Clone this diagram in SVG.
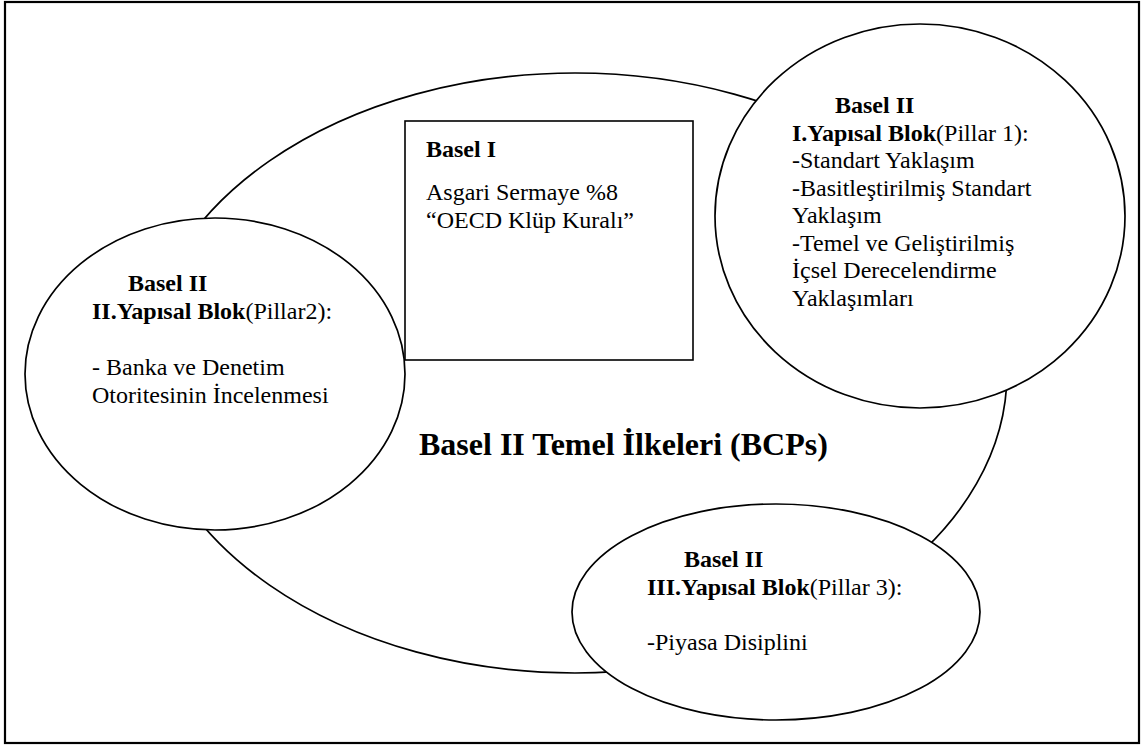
<svg xmlns="http://www.w3.org/2000/svg" width="1142" height="746" viewBox="0 0 1142 746">
  <style>
    .frame { fill: #ffffff; stroke: #000000; stroke-width: 2.2; }
    .shape { fill: #ffffff; stroke: #000000; stroke-width: 1.7; }
    .box { fill: #ffffff; stroke: #000000; stroke-width: 1.6; }
    text { font-family: "Liberation Serif", serif; font-size: 24px; font-weight: normal; fill: #000000; }
    .b { font-weight: bold; }
    .title { font-size: 32px; font-weight: bold; }
  </style>

  <!-- page frame -->
  <rect class="frame" x="5" y="2" width="1134" height="741"/>

  <!-- overall principles region (drawn first so the pillars overlap it) -->
  <g id="bcp">
    <ellipse class="shape" cx="575" cy="373" rx="432" ry="300"/>
    <text class="title" x="419" y="455">Basel II Temel İlkeleri (BCPs)</text>
  </g>

  <g id="connectors"></g>

  <!-- Basel I box -->
  <g id="basel1">
    <rect class="box" x="405" y="121" width="288" height="239"/>
    <text class="b" x="426" y="157">Basel I</text>
    <text x="426" y="200">Asgari Sermaye %8</text>
    <text x="426" y="228">“OECD Klüp Kuralı”</text>
  </g>

  <!-- Pillar 2 -->
  <g id="pillar2">
    <ellipse class="shape" cx="215" cy="374" rx="190" ry="156"/>
    <text class="b" x="128" y="291">Basel II</text>
    <text x="92" y="319"><tspan class="b">II.Yapısal Blok</tspan>(Pillar2):</text>
    <text x="92" y="375">- Banka ve Denetim</text>
    <text x="92" y="403">Otoritesinin İncelenmesi</text>
  </g>

  <!-- Pillar 1 -->
  <g id="pillar1">
    <ellipse class="shape" cx="920" cy="216" rx="205" ry="192"/>
    <text class="b" x="835" y="113">Basel II</text>
    <text x="792" y="140.5"><tspan class="b">I.Yapısal Blok</tspan>(Pillar 1):</text>
    <text x="792" y="168">-Standart Yaklaşım</text>
    <text x="792" y="195.5">-Basitleştirilmiş Standart</text>
    <text x="792" y="223">Yaklaşım</text>
    <text x="792" y="250.5">-Temel ve Geliştirilmiş</text>
    <text x="792" y="278">İçsel Derecelendirme</text>
    <text x="792" y="305.5">Yaklaşımları</text>
  </g>

  <!-- Pillar 3 -->
  <g id="pillar3">
    <ellipse class="shape" cx="776" cy="612" rx="204" ry="108"/>
    <text class="b" x="684" y="567">Basel II</text>
    <text x="647" y="594.5"><tspan class="b">III.Yapısal Blok</tspan>(Pillar 3):</text>
    <text x="647" y="649.5">-Piyasa Disiplini</text>
  </g>
</svg>
